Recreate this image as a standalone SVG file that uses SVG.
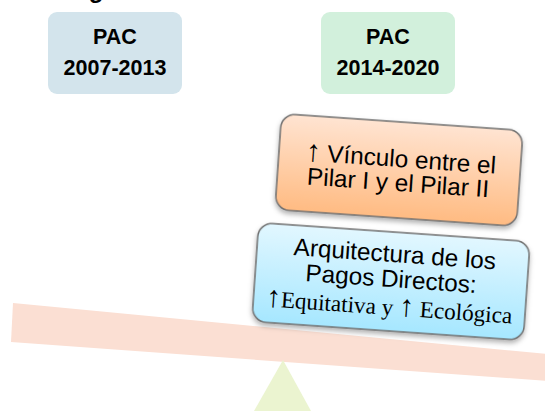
<svg xmlns="http://www.w3.org/2000/svg" width="545" height="411" viewBox="0 0 545 411">
<defs>
<linearGradient id="or" x1="0" y1="0" x2="0" y2="1"><stop offset="0" stop-color="#ffe4d2"/><stop offset="1" stop-color="#ffbb82"/></linearGradient>
<linearGradient id="bl" x1="0" y1="0" x2="0" y2="1"><stop offset="0" stop-color="#e2f7ff"/><stop offset="1" stop-color="#a6e7ff"/></linearGradient>
<filter id="sh" x="-10%" y="-10%" width="120%" height="130%"><feDropShadow dx="0" dy="3" stdDeviation="2.5" flood-color="#000" flood-opacity="0.3"/></filter>
</defs>
<style>
.h{font:bold 21.5px "Liberation Sans",Arial,sans-serif;fill:#000;text-anchor:middle}
.t{font:24.3px "Liberation Sans",Arial,sans-serif;fill:#000;text-anchor:middle}
.s{font:23.2px "Liberation Serif","Times New Roman",serif;fill:#000;text-anchor:middle}
.a{font-size:30px}
.card{stroke:#6f6f6f;stroke-width:1.5;filter:url(#sh)}
</style>
<text x="96" y="-2" style="font:bold 24px 'Liberation Sans',Arial,sans-serif;text-anchor:middle">g</text>
<g id="beam"><polygon points="13,303 548,354 548,381 11,342" fill="#fbdfd3"/></g>
<g id="fulcrum"><polygon points="283,360 311,411 254,411" fill="#ebf4d0"/></g>
<g id="pac-2007"><rect x="48" y="12" width="134" height="82" rx="9" fill="#d3e4ec"/>
<text class="h" x="115" y="44">PAC</text><text class="h" x="115" y="75">2007-2013</text></g>
<g id="pac-2014"><rect x="321" y="12" width="134" height="82" rx="9" fill="#d2f0dc"/>
<text class="h" x="388" y="44">PAC</text><text class="h" x="388" y="75">2014-2020</text></g>
<g id="vinculo" transform="rotate(4 399 170)"><rect x="278" y="122" width="242" height="96" rx="14" fill="url(#or)" class="card"/>
<text class="t" x="400" y="167"><tspan class="a">↑</tspan> Vínculo entre el</text><text class="t" x="399" y="191">Pilar I y el Pilar II</text></g>
<g id="arquitectura" transform="rotate(4 391 281)"><rect x="255" y="232" width="272" height="99" rx="14" fill="url(#bl)" class="card"/>
<text class="t" x="393" y="262">Arquitectura de los</text><text class="t" x="391" y="287">Pagos Directos:</text><text class="s" x="391" y="315"><tspan class="a">↑</tspan>Equitativa y <tspan class="a">↑</tspan> Ecológica</text></g>
<g id="connectors"></g>
</svg>
